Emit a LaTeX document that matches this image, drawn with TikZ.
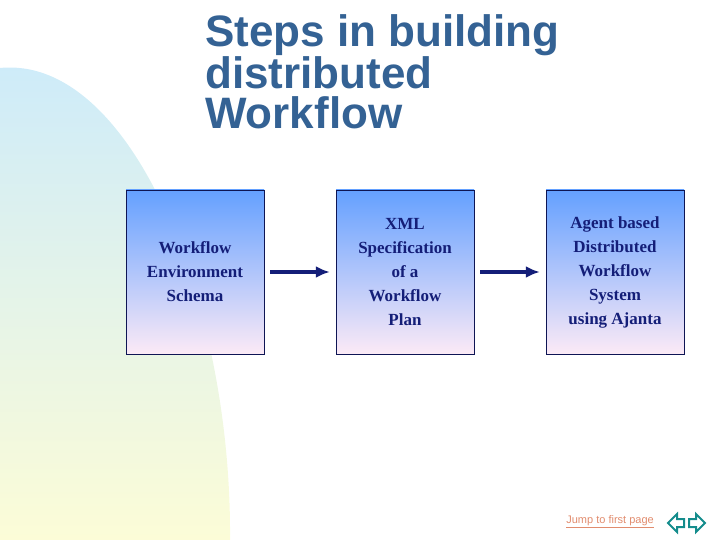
\documentclass[tikz,border=0pt]{standalone}
\usepackage{fontspec}
\setmainfont{Liberation Serif}
\newfontfamily\titlefont{Liberation Sans}
\definecolor{navy}{RGB}{20,30,120}
\definecolor{titleblue}{RGB}{52,98,148}
\definecolor{boxtop}{RGB}{100,160,255}
\definecolor{boxbot}{RGB}{252,234,246}
\definecolor{blobtop}{RGB}{205,235,250}
\definecolor{blobbot}{RGB}{252,252,215}
\definecolor{linkcol}{RGB}{225,140,110}
\definecolor{navcol}{RGB}{20,140,140}
\usetikzlibrary{positioning}
\begin{document}
\begin{tikzpicture}[x=1pt,y=-1pt,
    stepbox/.style = {draw=navy!70!black, top color=boxtop, bottom color=boxbot,
      minimum width=138pt, minimum height=164pt, align=center, inner sep=2pt,
      font=\fontsize{17}{24}\selectfont\bfseries, text=navy},
    flow/.style = {draw=navy, line width=4pt, -{Latex[length=14pt,width=12pt]}}]
  \usetikzlibrary{arrows.meta}
  \useasboundingbox (0,0) rectangle (720,540);
  % background blob
  \shade[top color=blobtop, bottom color=blobbot, draw=none]
    (0,68) .. controls (130,55) and (232,300) .. (230,540) -- (0,540) -- cycle;
  % title
  \node[anchor=north west, align=left, text=titleblue, inner sep=0pt,
    font=\titlefont\fontsize{44}{40}\selectfont\bfseries] (title) at (205,14)
    {Steps in building\\distributed\\Workflow};
  % steps
  \node[stepbox] (env) at (195,272) {Workflow\\Environment\\Schema};
  \node[stepbox] (xml) at (405,272) {XML\\Specification\\of a\\Workflow\\Plan};
  \node[stepbox] (agent) at (615,272) {Agent based\\Distributed\\Workflow\\System\\using Ajanta};
  \draw[flow] ([xshift=6pt]env.east) -- ([xshift=-6pt]xml.west);
  \draw[flow] ([xshift=6pt]xml.east) -- ([xshift=-6pt]agent.west);
  % navigation
  \node[anchor=east, inner sep=0pt, text=linkcol, font=\titlefont\fontsize{11}{12}\selectfont]
    (jump) at (654,522) {\underline{Jump to first page}};
  \draw[navcol, line width=2pt, line join=miter]
    (668,523) -- (677,514) -- (677,519) -- (684,519) -- (684,527) -- (677,527) -- (677,532) -- cycle;
  \draw[navcol, line width=2pt, line join=miter]
    (705,523) -- (696,514) -- (696,519) -- (689,519) -- (689,527) -- (696,527) -- (696,532) -- cycle;
\end{tikzpicture}
\end{document}
